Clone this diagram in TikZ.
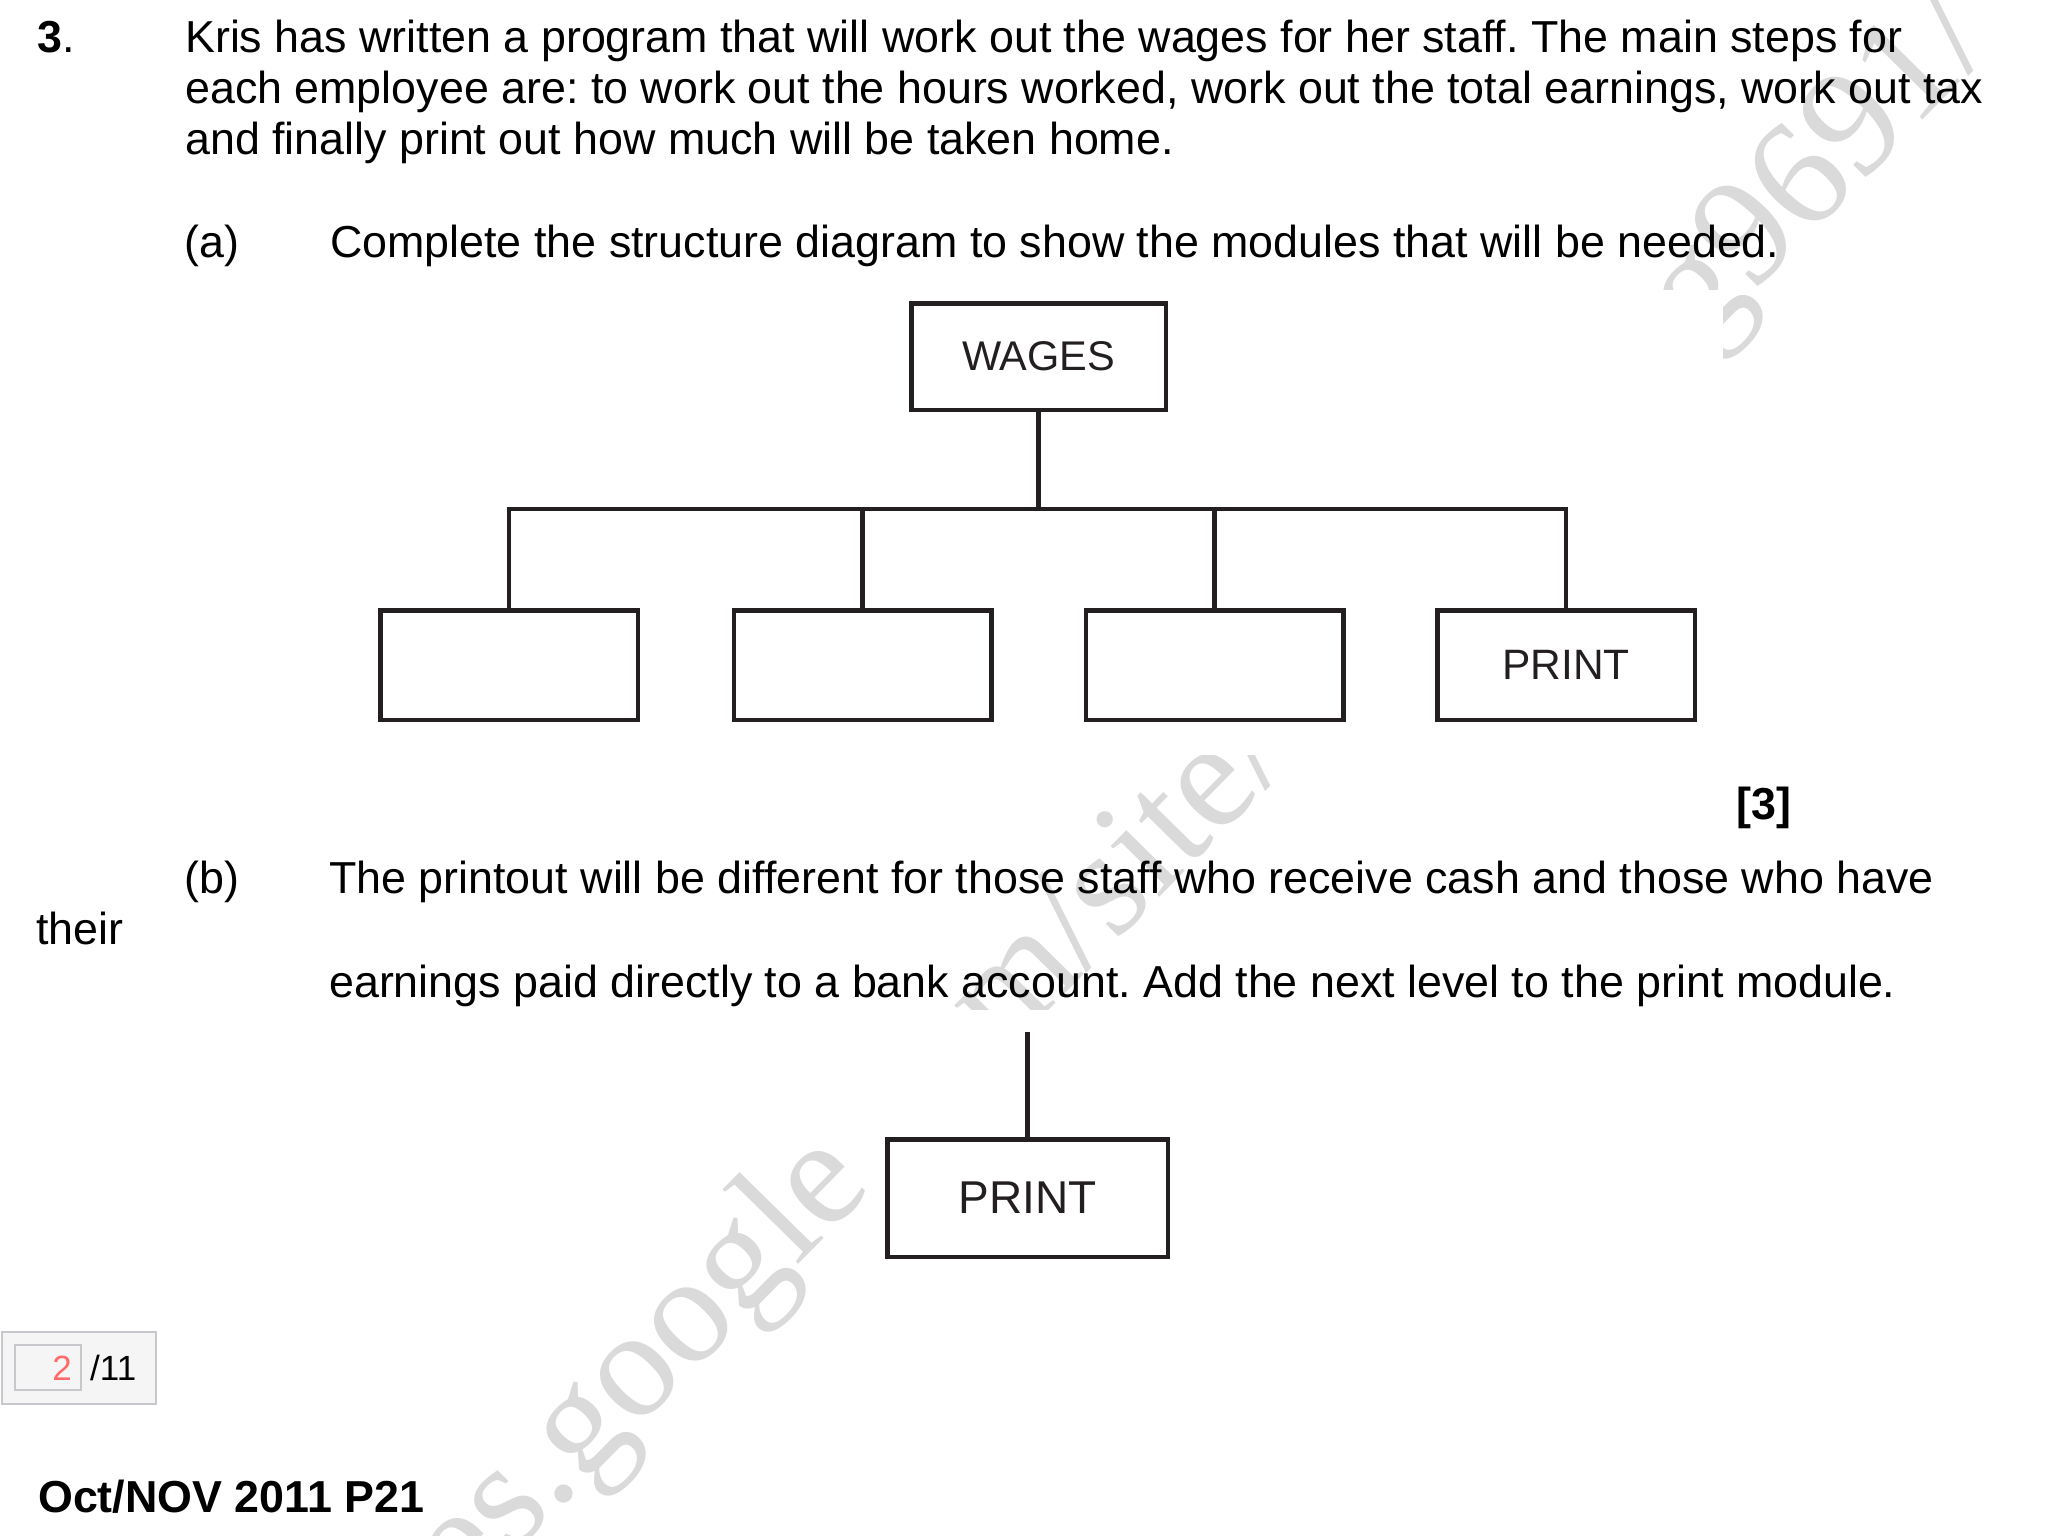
\documentclass[tikz,border=0pt]{standalone}
\usepackage{fontspec}
\setmainfont{Liberation Sans}
\newfontfamily\wmfont{Liberation Serif}
\frenchspacing
\definecolor{ink}{HTML}{231F20}
\definecolor{wm}{HTML}{DADADA}
\definecolor{scorefill}{HTML}{F5F5F5}
\definecolor{scoreline}{HTML}{C8C8CC}
\definecolor{scorered}{HTML}{FF6B6B}
\tikzset{
  body/.style={anchor=base west, inner sep=0pt, font=\fontsize{44.8}{50}\selectfont},
  bodybold/.style={anchor=base west, inner sep=0pt, font=\fontsize{44.8}{50}\selectfont\bfseries},
  module/.style={draw=ink, line width=4.5pt, text=ink, minimum width=257.5pt, minimum height=109.5pt, inner sep=0pt, font=\fontsize{42.5}{45}\selectfont},
  link/.style={draw=ink, line width=4.5pt},
  scorebox/.style={draw=scoreline, fill=scorefill, line width=2pt, inner sep=0pt},
  wmtext/.style={inner sep=0pt, rotate=45.5, text=wm, font=\wmfont\fontsize{153}{153}\selectfont},
}
\begin{document}
\begin{tikzpicture}[x=1pt,y=-1pt]
\useasboundingbox[fill=white] (0,0) rectangle (2048,1536);
% watermark
\begin{scope}
\clip (0,0) rectangle (2048,1536);
\coordinate (gend) at (874,1188);
\node[wmtext, anchor=base west] (wmb) at (gend) {.com/site/computing9691/};
\fill[white] (370,290) rectangle (1723,755);
\fill[white] (860,1010) rectangle (1190,1275);
\node[wmtext, anchor=base east] (wma) at (gend) {sites.google};
\end{scope}
% question text
\node[body] (qnum) at (37,53) {\textbf{3}.};
\node[body] (l1) at (185,53) {Kris has written a program that will work out the wages for her staff. The main steps for};
\node[body] (l2) at (185,104) {each employee are: to work out the hours worked, work out the total earnings, work out tax};
\node[body] (l3) at (185,154.5) {and finally print out how much will be taken home.};
\node[body] (pa) at (184,257) {(a)};
\node[body] (ta) at (330,257) {Complete the structure diagram to show the modules that will be needed.};
% structure diagram (a)
\node[module, minimum width=254.5pt, minimum height=106.5pt, font=\fontsize{41.5}{45}\selectfont] (wages) at (1038.5,356.5) {WAGES};
\node[module] (m1) at (509,665) {};
\node[module] (m2) at (862.5,665) {};
\node[module] (m3) at (1214.5,665) {};
\node[module] (print) at (1566,665) {PRINT};
\coordinate (bus) at (1038.5,509);
\draw[link] (wages.south) -- (bus);
\draw[link] (m1.north) -- (m1.north |- bus) -- (print.north |- bus) -- (print.north);
\draw[link] (m2.north) -- (m2.north |- bus);
\draw[link] (m3.north) -- (m3.north |- bus);
\node[bodybold] (mark) at (1736,819) {[3]};
% part (b)
\node[body] (pb) at (184,893) {(b)};
\node[body] (tb1) at (329,893) {The printout will be different for those staff who receive cash and those who have};
\node[body] (their) at (36,944) {their};
\node[body] (tb2) at (329,997) {earnings paid directly to a bank account. Add the next level to the print module.};
\node[module, minimum width=280.5pt, minimum height=117.5pt, font=\fontsize{46}{48}\selectfont] (print2) at (1027.5,1198) {PRINT};
\coordinate (p2top) at (1027.5,1032);
\draw[link] (p2top) -- (print2.north);
% score box
\node[scorebox, minimum width=154pt, minimum height=72pt] (score) at (79,1368) {};
\node[scorebox, minimum width=66pt, minimum height=45pt] (scorein) at (48,1367.5) {};
\node[anchor=base east, inner sep=0pt, text=scorered, font=\fontsize{35}{35}\selectfont] (two) at (72,1380) {2};
\node[anchor=base west, inner sep=0pt, font=\fontsize{35}{35}\selectfont] (total) at (90,1380) {/11};
% footer
\node[bodybold] (paper) at (38,1512) {Oct/NOV 2011 P21};
\end{tikzpicture}
\end{document}
